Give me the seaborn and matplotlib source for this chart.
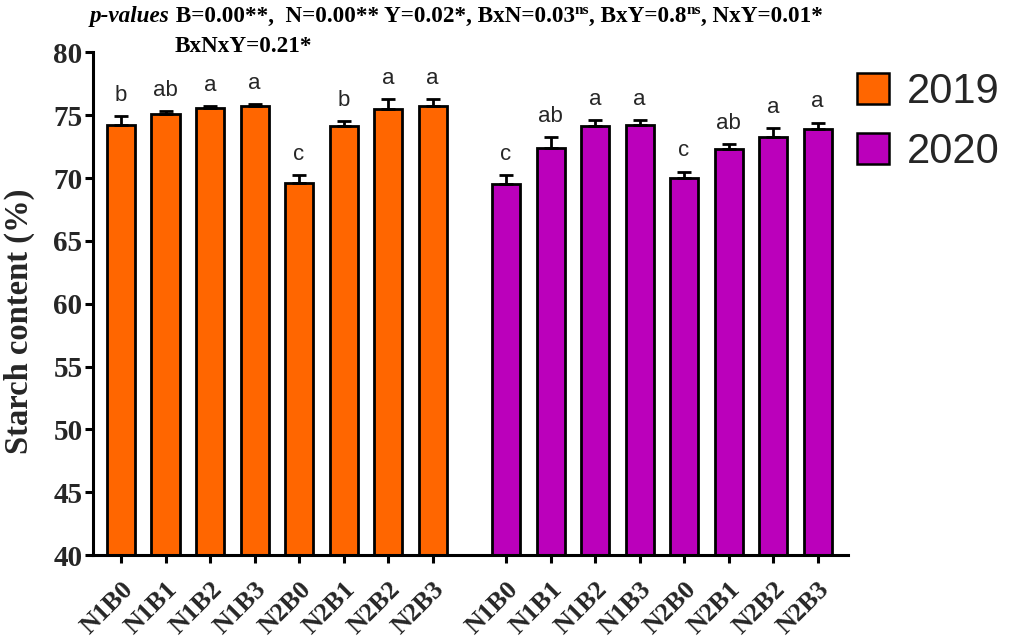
import numpy as np
import pandas as pd
import matplotlib
matplotlib.use("Agg")
import matplotlib.pyplot as plt
from matplotlib.patches import Patch
import seaborn as sns

# Treatments, starch content (%) means and SE for two seasons
treatments = ["N1B0", "N1B1", "N1B2", "N1B3", "N2B0", "N2B1", "N2B2", "N2B3"]
years = ["2019", "2020"]
starch_2019 = [74.2, 75.1, 75.6, 75.75, 69.6, 74.1, 75.5, 75.7]
se_2019 = [0.7, 0.2, 0.1, 0.1, 0.6, 0.4, 0.75, 0.55]
starch_2020 = [69.5, 72.4, 74.1, 74.2, 70.0, 72.3, 73.3, 73.9]
se_2020 = [0.7, 0.85, 0.5, 0.4, 0.5, 0.4, 0.65, 0.5]
letters_2019 = ["b", "ab", "a", "a", "c", "b", "a", "a"]
letters_2020 = ["c", "ab", "a", "a", "c", "ab", "a", "a"]
colors = {"2019": "#FF6600", "2020": "#BB00BB"}

sns.set_theme(style="ticks")
plt.rcParams["font.family"] = ["Liberation Serif", "DejaVu Serif"]
sans = ["Liberation Sans", "DejaVu Sans"]

group_gap = 1.65
n = len(treatments)
pos = list(range(n)) + [n - 1 + group_gap + i for i in range(n)]

df = pd.DataFrame({
    "pos": pos,
    "treatment": treatments * 2,
    "year": [years[0]] * n + [years[1]] * n,
    "starch": starch_2019 + starch_2020,
    "se": se_2019 + se_2020,
    "letter": letters_2019 + letters_2020,
})

fig = plt.figure(figsize=(10.16, 6.38), dpi=100)
ax = fig.add_axes([0.0915, 0.130, 0.7435, 0.788])

sns.barplot(data=df, x="pos", y="starch", hue="year", palette=colors,
            native_scale=True, width=0.63, saturation=1, edgecolor="black",
            linewidth=2.0, legend=False, errorbar=None, ax=ax, zorder=2)

# upper-only error bars
ax.errorbar(df["pos"], df["starch"], yerr=[np.zeros(len(df)), df["se"]],
            fmt="none", ecolor="black", elinewidth=2.0, capsize=4.8,
            capthick=2.0, zorder=3)

# significance letters
for x, y, e, s in zip(df["pos"], df["starch"], df["se"], df["letter"]):
    ax.annotate(s, (x, y + e), xytext=(0, 11), textcoords="offset points",
                ha="center", va="baseline", fontsize=16, family=sans)

ax.set_ylim(40, 80)
ax.set_xlim(-0.63, pos[-1] + 0.69)
ax.set_yticks(range(40, 81, 5))
ax.set_xticks(pos)
ax.set_xticklabels(df["treatment"], rotation=45, ha="right", va="top",
                   rotation_mode="anchor", fontsize=19, fontweight="bold")
for lbl in ax.get_yticklabels():
    lbl.set_fontsize(21)
    lbl.set_fontweight("bold")
ax.tick_params(axis="both", length=6, width=2.2, color="black")
ax.tick_params(axis="y", pad=1.5)
ax.tick_params(axis="x", pad=10)
ax.set_xlabel("")
ax.set_ylabel("Starch content (%)", fontsize=23.5, fontweight="bold")
ax.yaxis.set_label_coords(-0.077, 0.465)
for side in ["top", "right"]:
    ax.spines[side].set_visible(False)
for side in ["left", "bottom"]:
    ax.spines[side].set_linewidth(2.2)
    ax.spines[side].set_color("black")

handles = [Patch(facecolor=colors[y], edgecolor="black", linewidth=1.8, label=y)
           for y in years]
fig.legend(handles=handles, loc="upper left", bbox_to_anchor=(0.8435, 0.8875),
           frameon=False, borderpad=0, borderaxespad=0, handlelength=0.77,
           handleheight=0.77, handletextpad=0.43, labelspacing=0.49,
           prop={"family": sans, "size": 30})

# p-value header, laid out piece by piece along one baseline
bold = dict(fontsize=16.7, fontweight="bold", color="black")
sup = dict(fontsize=11, fontweight="bold", color="black")
first = fig.text(0.0885, 0.9655, "p-values", ha="left", va="baseline",
                 fontstyle="italic", **bold)
runs = [
    (" B=0.00**,  N=0.00** Y=0.02*, BxN=0.03", False),
    ("ns", True),
    (", BxY=0.8", False),
    ("ns", True),
    (", NxY=0.01*", False),
]
main, prev = first, first
for s, is_sup in runs:
    if is_sup:
        prev = ax.annotate(s, xy=(1, 0.5), xycoords=(prev, main), ha="left",
                           va="bottom", annotation_clip=False, **sup)
    else:
        prev = ax.annotate(s, xy=(1, 0), xycoords=(prev, main), ha="left",
                           va="bottom", annotation_clip=False, **bold)
        main = prev
fig.text(0.172, 0.918, "BxNxY=0.21*", ha="left", va="baseline", **bold)

fig.savefig("out.png", dpi=100)
